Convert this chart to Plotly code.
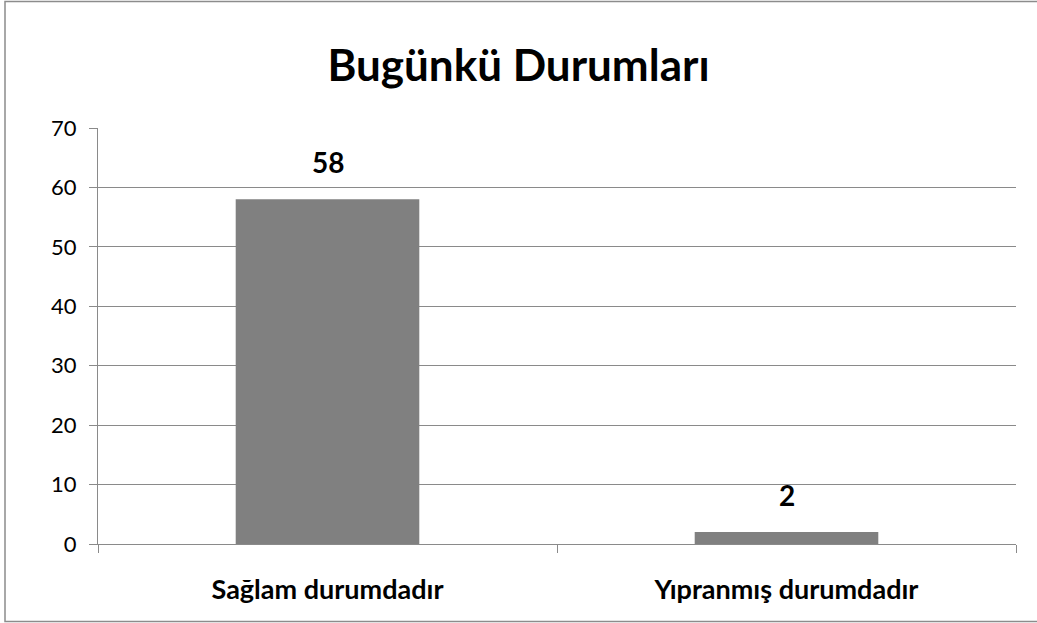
import plotly.graph_objects as go

categories = ["Sağlam durumdadır", "Yıpranmış durumdadır"]
values = [58, 2]
y_ticks = [0, 10, 20, 30, 40, 50, 60, 70]
title_text = "Bugünkü Durumları"

W, H = 1037, 623
L, R, T, B = 98, 21, 128, 79
pw, ph = W - L - R, H - T - B

FONT = "Lato"
GRID = "#8a8a8a"

fig = go.Figure()
fig.add_trace(go.Bar(
    x=categories, y=values,
    marker=dict(color="#808080", line=dict(width=0)),
    width=0.4,
    hoverinfo="skip",
))

for c, v in zip(categories, values):
    fig.add_annotation(
        x=c, y=v, text=f"<b>{v}</b>", showarrow=False,
        yanchor="bottom", yshift=18,
        font=dict(family=FONT, size=28, color="#000000"),
    )

def px_x(px):
    return (px - L) / pw

def px_y(py):
    return (H - B - py) / ph

fig.add_shape(type="rect", xref="paper", yref="paper",
              x0=px_x(5), x1=px_x(1045), y0=px_y(621.5), y1=px_y(1.5),
              line=dict(color="#8c8c8c", width=1.5), layer="below")

fig.update_layout(
    width=W, height=H,
    margin=dict(l=L, r=R, t=T, b=B, autoexpand=False),
    paper_bgcolor="white", plot_bgcolor="white",
    showlegend=False,
    title=dict(text=f"<b>{title_text}</b>", x=0.5, xanchor="center",
               xref="container", yref="container",
               y=1 - 66 / H, yanchor="middle",
               font=dict(family=FONT, size=44, color="#000000")),
    font=dict(family=FONT, color="#000000"),
    bargap=0.6,
)
fig.update_yaxes(
    range=[0, 70], tickvals=y_ticks, ticktext=[str(t) for t in y_ticks],
    showgrid=True, gridcolor=GRID, gridwidth=1,
    showline=True, linecolor=GRID, linewidth=1,
    ticks="outside", ticklen=8, tickcolor=GRID, tickwidth=1,
    ticklabelstandoff=8,
    tickfont=dict(family=FONT, size=22, color="#000000"),
    zeroline=False,
)
fig.update_xaxes(
    showline=True, linecolor=GRID, linewidth=1,
    ticks="outside", ticklen=8, tickcolor=GRID, tickwidth=1,
    tickson="boundaries",
    ticklabelstandoff=22,
    tickfont=dict(family=FONT, size=27, color="#000000"),
    tickvals=categories, ticktext=[f"<b>{c}</b>" for c in categories],
    showgrid=False,
)

fig.write_html("out.html",
               config={"displayModeBar": False, "staticPlot": True},
               post_script="document.body.style.margin='0';document.body.style.overflow='hidden';")
